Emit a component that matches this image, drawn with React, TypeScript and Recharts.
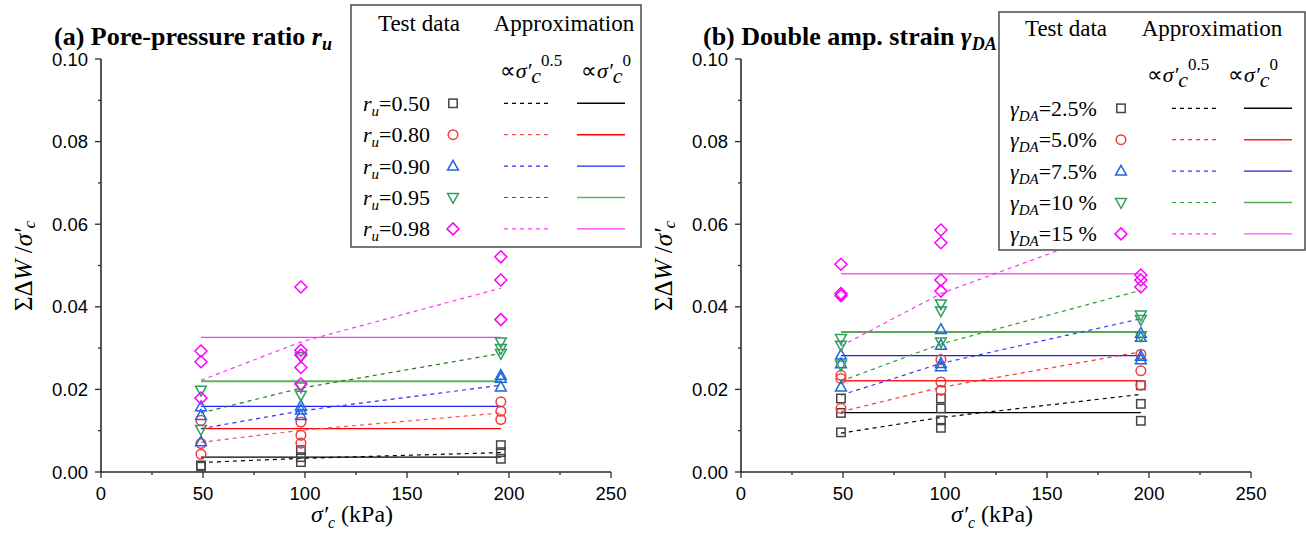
import React from "react";
import { ComposedChart, Line, Scatter, XAxis, YAxis } from "recharts";

// confining pressures (kPa)
const pressures = [49, 98, 196];
const xTicks = [0, 25, 50, 75, 100, 125, 150, 175, 200, 225, 250];
const yTicks = [0, 0.01, 0.02, 0.03, 0.04, 0.05, 0.06, 0.07, 0.08, 0.09, 0.1];

// (a) pore-pressure ratio r_u : test data per pressure
const ru050 = [[0.0013, 0.0016], [0.0053, 0.0036, 0.0024], [0.0065, 0.0048, 0.0032]];
const ru080 = [[0.0043, 0.0069, 0.0125], [0.0121, 0.0089, 0.007], [0.017, 0.0147, 0.0127]];
const ru090 = [[0.0073, 0.0137, 0.0158], [0.016, 0.015, 0.0137], [0.0234, 0.0227, 0.0206]];
const ru095 = [[0.0103, 0.0198], [0.0279, 0.0206, 0.0186], [0.0315, 0.0299, 0.0287]];
const ru098 = [[0.0179, 0.0267, 0.0293], [0.0448, 0.0295, 0.0283, 0.0253, 0.0213], [0.0521, 0.0465, 0.0369]];
const ruFlat = [0.0036, 0.0105, 0.0159, 0.022, 0.0326];
const ruSqrt = [
  [0.0023, 0.0033, 0.0047],
  [0.0072, 0.0101, 0.0143],
  [0.0105, 0.0148, 0.021],
  [0.0143, 0.0203, 0.0287],
  [0.0222, 0.0315, 0.0445],
];
const ruLabels = ["0.50", "0.80", "0.90", "0.95", "0.98"];

// (b) double amplitude strain
const ga25 = [[0.0096, 0.0143, 0.0178], [0.0178, 0.0154, 0.0125, 0.0107], [0.021, 0.0165, 0.0124]];
const ga50 = [[0.0154, 0.0226, 0.0234], [0.0272, 0.0218, 0.0198], [0.0285, 0.0245, 0.021]];
const ga75 = [[0.0206, 0.0262, 0.0283], [0.0345, 0.0307, 0.0263, 0.0255], [0.0336, 0.0326, 0.028, 0.0272]];
const ga10 = [[0.0259, 0.0307, 0.0323], [0.0407, 0.039, 0.0315], [0.038, 0.0369, 0.033]];
const ga15 = [[0.0427, 0.0432, 0.0503], [0.0586, 0.0555, 0.0465, 0.0438], [0.0477, 0.0465, 0.0448]];
const gaFlat = [0.0144, 0.0221, 0.0282, 0.0339, 0.048];
const gaSqrt = [
  [0.0094, 0.0132, 0.0188],
  [0.0146, 0.0205, 0.0291],
  [0.0186, 0.0263, 0.0371],
  [0.022, 0.031, 0.044],
  [0.0305, 0.0432, 0.061],
];
const gaLabels = ["2.5%", "5.0%", "7.5%", "10 %", "15 %"];

const kinds = ["square", "circle", "up", "down", "diamond"];
const markColors = ["#454545", "#f03c3c", "#1f66e0", "#2e9e5a", "#ff00ff"];
const ruDash = ["#000000", "#ff4d4d", "#2a2aff", "#1e7a1e", "#ff33ff"];
const ruSolid = ["#000000", "#ff0000", "#2222ff", "#5fb35f", "#ff33ff"];
const gaDash = ["#000000", "#ff3333", "#3333ff", "#2a9a2a", "#ff33ff"];
const gaSolid = ["#000000", "#ff2020", "#2020dd", "#55aa55", "#ff55ff"];

const SERIF = "'Liberation Serif', 'Times New Roman', serif";
const SANS = "'Liberation Sans', Arial, sans-serif";
const AXIS = "#2a2a2a";

const toPoints = (cols: number[][]) =>
  cols.flatMap((col, i) => col.map((v) => ({ x: pressures[i], y: v })));

const Mark = ({ kind, cx, cy, color }: any) => {
  const common = { fill: "none", stroke: color, strokeWidth: 1.5 };
  if (kind === "square") return <rect x={cx - 4.2} y={cy - 4.2} width={8.4} height={8.4} {...common} />;
  if (kind === "circle") return <circle cx={cx} cy={cy} r={4.8} {...common} />;
  if (kind === "up")
    return <polygon points={`${cx},${cy - 5.8} ${cx + 5.4},${cy + 4} ${cx - 5.4},${cy + 4}`} {...common} />;
  if (kind === "down")
    return <polygon points={`${cx},${cy + 5.8} ${cx + 5.4},${cy - 4} ${cx - 5.4},${cy - 4}`} {...common} />;
  return <polygon points={`${cx},${cy - 6} ${cx + 6},${cy} ${cx},${cy + 6} ${cx - 6},${cy}`} {...common} />;
};

const XTick = ({ x, y, payload, top }: any) => {
  const major = payload.value % 50 === 0;
  const len = major ? 6 : 3;
  if (top) return <line x1={x} x2={x} y1={y} y2={y + len} stroke={AXIS} strokeWidth={1.3} />;
  return (
    <g>
      <line x1={x} x2={x} y1={y} y2={y + len} stroke={AXIS} strokeWidth={1.3} />
      {major && (
        <text x={x} y={y + 28} textAnchor="middle" fontFamily={SANS} fontSize={18.5} fill="#000">
          {payload.value}
        </text>
      )}
    </g>
  );
};

const YTick = ({ x, y, payload, right }: any) => {
  const major = Math.round(payload.value * 100) % 2 === 0;
  const len = major ? 6 : 3;
  if (right) return <line x1={x} x2={x - len} y1={y} y2={y} stroke={AXIS} strokeWidth={1.3} />;
  return (
    <g>
      <line x1={x} x2={x - len} y1={y} y2={y} stroke={AXIS} strokeWidth={1.3} />
      {major && (
        <text x={x - 13} y={y + 6.5} textAnchor="end" fontFamily={SANS} fontSize={18.5} fill="#000">
          {payload.value.toFixed(2)}
        </text>
      )}
    </g>
  );
};

const Panel = ({ left, data, flat, sqrt, dash, solid, title, legend, overlayWidth }: any) => {
  return (
    <div style={{ position: "absolute", left, top: 0, width: overlayWidth, height: 544 }}>
      <ComposedChart width={650} height={544} margin={{ top: 59, right: 39, bottom: 32, left: 41 }}>
        <XAxis
          type="number"
          dataKey="x"
          domain={[0, 250]}
          ticks={xTicks}
          interval={0}
          height={40}
          tickSize={0}
          tickMargin={0}
          tickLine={false}
          axisLine={{ stroke: AXIS, strokeWidth: 1.6 }}
          tick={<XTick />}
        />
        <XAxis
          xAxisId="top"
          orientation="top"
          type="number"
          dataKey="x"
          domain={[0, 250]}
          ticks={xTicks}
          interval={0}
          height={0}
          tickSize={0}
          tickMargin={0}
          tickLine={false}
          axisLine={{ stroke: AXIS, strokeWidth: 1.6 }}
          tick={<XTick top />}
        />
        <YAxis
          type="number"
          dataKey="y"
          domain={[0, 0.1]}
          ticks={yTicks}
          interval={0}
          width={60}
          tickSize={0}
          tickMargin={0}
          tickLine={false}
          axisLine={{ stroke: AXIS, strokeWidth: 1.6 }}
          tick={<YTick />}
        />
        <YAxis
          yAxisId="right"
          orientation="right"
          type="number"
          dataKey="y"
          domain={[0, 0.1]}
          ticks={yTicks}
          interval={0}
          width={0}
          tickSize={0}
          tickMargin={0}
          tickLine={false}
          axisLine={{ stroke: AXIS, strokeWidth: 1.6 }}
          tick={<YTick right />}
        />
        {flat.map((v: number, i: number) => (
          <Line
            key={`f${i}`}
            data={[{ x: pressures[0], y: v }, { x: pressures[2], y: v }]}
            dataKey="y"
            stroke={solid[i]}
            strokeWidth={i === 3 ? 2 : 1.3}
            dot={false}
            isAnimationActive={false}
          />
        ))}
        {sqrt.map((vals: number[], i: number) => (
          <Line
            key={`s${i}`}
            data={pressures.map((p, j) => ({ x: p, y: vals[j] }))}
            dataKey="y"
            stroke={dash[i]}
            strokeWidth={1.2}
            strokeDasharray="4 4"
            dot={false}
            isAnimationActive={false}
          />
        ))}
        {data.map((cols: number[][], i: number) => (
          <Scatter
            key={`d${i}`}
            data={toPoints(cols)}
            dataKey="y"
            isAnimationActive={false}
            shape={(p: any) => <Mark kind={kinds[i]} cx={p.cx} cy={p.cy} color={markColors[i]} />}
          />
        ))}
      </ComposedChart>
      <svg
        width={overlayWidth}
        height={544}
        style={{ position: "absolute", left: 0, top: 0, pointerEvents: "none" }}
      >
        {title}
        <text
          transform="rotate(-90 23 266)"
          x={23}
          y={266}
          textAnchor="middle"
          dominantBaseline="central"
          fontFamily={SERIF}
          fontSize={25}
        >
          ΣΔ<tspan fontStyle="italic">W</tspan> /<tspan fontStyle="italic">σ′</tspan>
          <tspan fontStyle="italic" fontSize={17} dy={6}>c</tspan>
        </text>
        <text x={352} y={522} textAnchor="middle" fontFamily={SERIF} fontSize={24}>
          <tspan fontStyle="italic">σ′</tspan>
          <tspan fontStyle="italic" fontSize={16} dy={6}>c</tspan>
          <tspan dy={-6}> (kPa)</tspan>
        </text>
        {legend}
      </svg>
    </div>
  );
};

const Legend = ({ box, rows, labelFn, dash, solid }: any) => {
  const { x0, y0, x1, y1, tdX, apX, hY, p5X, p0X, pY, rowY, textX, markX, dA, dB, sA, sB } = box;
  return (
    <g fontFamily={SERIF} fontSize={22}>
      <rect x={x0} y={y0} width={x1 - x0} height={y1 - y0} fill="#fff" stroke="#555" strokeWidth={1.6} />
      <text x={tdX} y={hY} textAnchor="middle" fontSize={23}>Test data</text>
      <text x={apX} y={hY} textAnchor="middle" fontSize={23}>Approximation</text>
      <text x={p5X} y={pY} textAnchor="middle">
        ∝<tspan fontStyle="italic">σ′</tspan>
        <tspan fontStyle="italic" dy={5}>c</tspan>
        <tspan fontSize={17} dy={-17}>0.5</tspan>
      </text>
      <text x={p0X} y={pY} textAnchor="middle">
        ∝<tspan fontStyle="italic">σ′</tspan>
        <tspan fontStyle="italic" dy={5}>c</tspan>
        <tspan fontSize={17} dy={-17}>0</tspan>
      </text>
      {rows.map((r: string, i: number) => {
        const cy = rowY + i * 31.4;
        return (
          <g key={r}>
            <text x={textX} y={cy + 7.5}>{labelFn(r)}</text>
            <Mark kind={kinds[i]} cx={markX} cy={cy} color={markColors[i]} />
            <line x1={dA} x2={dB} y1={cy} y2={cy} stroke={dash[i]} strokeWidth={1.2} strokeDasharray="4 4" />
            <line x1={sA} x2={sB} y1={cy} y2={cy} stroke={solid[i]} strokeWidth={1.4} />
          </g>
        );
      })}
    </g>
  );
};

const leftBox = {
  x0: 351, y0: 5, x1: 641, y1: 247, tdX: 419, apX: 564, hY: 31, p5X: 531, p0X: 606, pY: 78,
  rowY: 103.3, textX: 363, markX: 453, dA: 504, dB: 549, sA: 577, sB: 625,
};
const rightBox = {
  x0: 359, y0: 12, x1: 665, y1: 250, tdX: 426, apX: 572, hY: 36, p5X: 538, p0X: 613, pY: 82,
  rowY: 108.3, textX: 370, markX: 481, dA: 532, dB: 577, sA: 604, sB: 652,
};

export default function App() {
  return (
    <div style={{ position: "absolute", left: 0, top: 0, width: 1306, height: 544, background: "#fff", overflow: "hidden" }}>
      <Panel
        left={0}
        overlayWidth={650}
        data={[ru050, ru080, ru090, ru095, ru098]}
        flat={ruFlat}
        sqrt={ruSqrt}
        dash={ruDash}
        solid={ruSolid}
        title={
          <text x={54} y={45} fontFamily={SERIF} fontWeight="bold" fontSize={26}>
            (a) Pore-pressure ratio <tspan fontStyle="italic">r</tspan>
            <tspan fontStyle="italic" fontSize={18} dy={5}>u</tspan>
          </text>
        }
        legend={
          <Legend
            box={leftBox}
            rows={ruLabels}
            dash={ruDash}
            solid={ruSolid}
            labelFn={(r: string) => (
              <>
                <tspan fontStyle="italic">r</tspan>
                <tspan fontStyle="italic" fontSize={15} dy={5}>u</tspan>
                <tspan dy={-5}>={r}</tspan>
              </>
            )}
          />
        }
      />
      <Panel
        left={640}
        overlayWidth={666}
        data={[ga25, ga50, ga75, ga10, ga15]}
        flat={gaFlat}
        sqrt={gaSqrt}
        dash={gaDash}
        solid={gaSolid}
        title={
          <text x={63} y={45} fontFamily={SERIF} fontWeight="bold" fontSize={26}>
            (b) Double amp. strain <tspan fontStyle="italic">γ</tspan>
            <tspan fontStyle="italic" fontSize={18} dy={5}>DA</tspan>
          </text>
        }
        legend={
          <Legend
            box={rightBox}
            rows={gaLabels}
            dash={gaDash}
            solid={gaSolid}
            labelFn={(r: string) => (
              <>
                <tspan fontStyle="italic">γ</tspan>
                <tspan fontStyle="italic" fontSize={15} dy={5}>DA</tspan>
                <tspan dy={-5}>={r}</tspan>
              </>
            )}
          />
        }
      />
    </div>
  );
}
